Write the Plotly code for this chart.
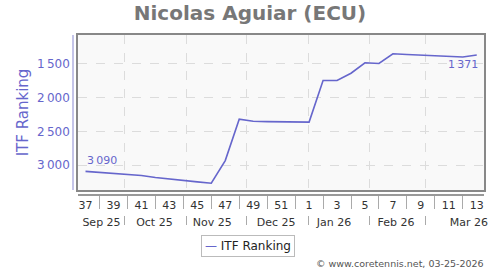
import datetime as dt
import plotly.graph_objects as go

# ---------------- data ----------------
weeks = [37, 38, 39, 40, 41, 42, 43, 44, 45, 46, 47, 48, 49, 50, 51, 52,
         1, 2, 3, 4, 5, 6, 7, 8, 9, 10, 11, 12, 13]
years = [2025] * 16 + [2026] * 13
ranking = [3090, 3105, 3125, 3145, 3150, 3180, 3205, 3225, 3245, 3265,
           2930, 2318, 2350, 2355, 2358, 2360, 2362, 1747, 1748, 1640,
           1485, 1495, 1352, 1362, 1370, 1380, 1390, 1400, 1371]
y_ticks = [1500, 2000, 2500, 3000]
month_starts = ["2025-10-01", "2025-11-01", "2025-12-01", "2026-01-01",
                "2026-02-01", "2026-03-01"]
month_labels = ["Sep 25", "Oct 25", "Nov 25", "Dec 25", "Jan 26", "Feb 26", "Mar 26"]
month_label_pos = ["2025-09-19 12:00", "2025-10-16", "2025-11-14", "2025-12-16",
                   "2026-01-14", "2026-02-14", "2026-03-22 12:00"]
series_name = "ITF Ranking"
title_text = "Nicolas Aguiar (ECU)"
credit = "© www.coretennis.net, 03-25-2026"

# ---------------- derived ----------------
dates = [dt.datetime.fromisocalendar(y, w, 4) + dt.timedelta(hours=12)
         for y, w in zip(years, weeks)]
odd_dates = [d for d, w in zip(dates, weeks) if w % 2 == 1]
odd_text = [str(w) for w in weeks if w % 2 == 1]
even_dates = [d for d, w in zip(dates, weeks) if w % 2 == 0]


def fmt(v):
    return f"{v:,}".replace(",", "\u2009")


PURPLE = "#6666cc"
FONT = "DejaVu Sans"
x_range = ["2025-09-07 17:00", "2026-03-30 03:00"]
y_range = [3365, 1075]

# paper: x 73..488 px, y 35..225 px
H_PAPER = 190.0
def ypos(px):
    return (225 - px) / H_PAPER

x_dom = [5 / 415, 1]

fig = go.Figure()
fig.add_trace(go.Scatter(
    x=dates, y=ranking, mode="lines", name=series_name,
    line=dict(color=PURPLE, width=1.6),
    showlegend=False, hoverinfo="skip",
))
for ax in ["x2", "x3", "x4", "x5"]:
    fig.add_trace(go.Scatter(x=[], y=[], xaxis=ax, yaxis="y", showlegend=False))
fig.add_trace(go.Scatter(x=[], y=[], xaxis="x", yaxis="y2", showlegend=False))

common_x = dict(type="date", range=x_range, domain=x_dom, showgrid=False,
                zeroline=False, fixedrange=True)

fig.update_layout(
    width=500, height=270,
    margin=dict(l=73, r=12, t=35, b=45),
    paper_bgcolor="white", plot_bgcolor="#f9f9f9",
    font=dict(family=FONT, size=11, color="#333"),
    title=dict(text=f"<b>{title_text}</b>", x=0.5, xref="container", xanchor="center",
               y=1 - 13 / 270, yref="container", yanchor="middle",
               font=dict(family=FONT, size=20, color="#777")),
    xaxis=dict(**{**common_x, "showgrid": True}, anchor="y",
               tickmode="array", tickvals=month_starts, showticklabels=False, ticks="",
               gridcolor="#dcdcdc", griddash="dash", gridwidth=1,
               showline=True, mirror=True, linecolor="#888", linewidth=1.5),
    xaxis2=dict(**common_x, overlaying="x", anchor="free", position=ypos(195),
                showline=True, linecolor="#999", linewidth=1.5,
                tickmode="array", tickvals=even_dates, ticks="outside", ticklen=13,
                tickcolor="#aaa", tickwidth=1, showticklabels=False),
    xaxis3=dict(**common_x, overlaying="x", anchor="free", position=ypos(195),
                showline=False, tickmode="array", tickvals=odd_dates, ticktext=odd_text,
                ticks="", ticklabelstandoff=2,
                tickfont=dict(family=FONT, size=11, color="#333")),
    xaxis4=dict(**common_x, overlaying="x", anchor="free", position=ypos(215),
                showline=False, tickmode="array", tickvals=month_starts, ticks="outside",
                ticklen=9, tickcolor="#aaa", tickwidth=1, showticklabels=False),
    xaxis5=dict(**common_x, overlaying="x", anchor="free", position=ypos(211.5),
                showline=False, tickmode="array", tickvals=month_label_pos,
                ticktext=month_labels, ticks="", ticklabelstandoff=2,
                tickfont=dict(family=FONT, size=11, color="#333")),
    yaxis=dict(range=y_range, domain=[ypos(190), 1], anchor="x",
               tickmode="array", tickvals=y_ticks, showticklabels=False, ticks="",
               showgrid=True, gridcolor="#dcdcdc", griddash="dash", gridwidth=1,
               zeroline=False, showline=True, mirror=True, linecolor="#888",
               linewidth=1.5, fixedrange=True),
    yaxis2=dict(range=y_range, domain=[ypos(190), 1], overlaying="y", anchor="free",
                position=0, side="left", showgrid=False, zeroline=False,
                showline=True, linecolor="#c4c4e8", linewidth=1.5,
                tickmode="array", tickvals=y_ticks, ticktext=[fmt(v) for v in y_ticks],
                ticks="", tickfont=dict(family=FONT, size=12, color=PURPLE),
                title=dict(text=series_name, standoff=4,
                           font=dict(family=FONT, size=15, color=PURPLE)),
                fixedrange=True),
    showlegend=False,
)

# value labels at first and last points
fig.add_annotation(
    x=dates[0], y=ranking[0], xref="x", yref="y", text=fmt(ranking[0]),
    xanchor="left", yanchor="bottom", showarrow=False, xshift=-1, yshift=2,
    font=dict(family=FONT, size=11, color=PURPLE),
)
fig.add_annotation(
    x=dates[-1], y=ranking[-1], xref="x", yref="y", text=fmt(ranking[-1]),
    xanchor="right", yanchor="top", showarrow=False, xshift=3, yshift=-1,
    font=dict(family=FONT, size=11, color=PURPLE),
)

# legend box (line sample + name)
fig.add_annotation(
    text=f"<span style='color:{PURPLE}'>\u2014</span> {series_name}",
    xref="paper", yref="paper", x=(249.5 - 73) / 415, y=ypos(246),
    xanchor="center", yanchor="middle", showarrow=False,
    font=dict(family=FONT, size=12, color="#222"),
    bordercolor="#bbb", borderwidth=1, borderpad=3, bgcolor="white",
)
# credit line
fig.add_annotation(
    text=credit, xref="paper", yref="paper", x=(490 - 73) / 415, y=ypos(263),
    xanchor="right", yanchor="middle", showarrow=False,
    font=dict(family=FONT, size=9.5, color="#555"),
)

fig.write_html("out.html")
